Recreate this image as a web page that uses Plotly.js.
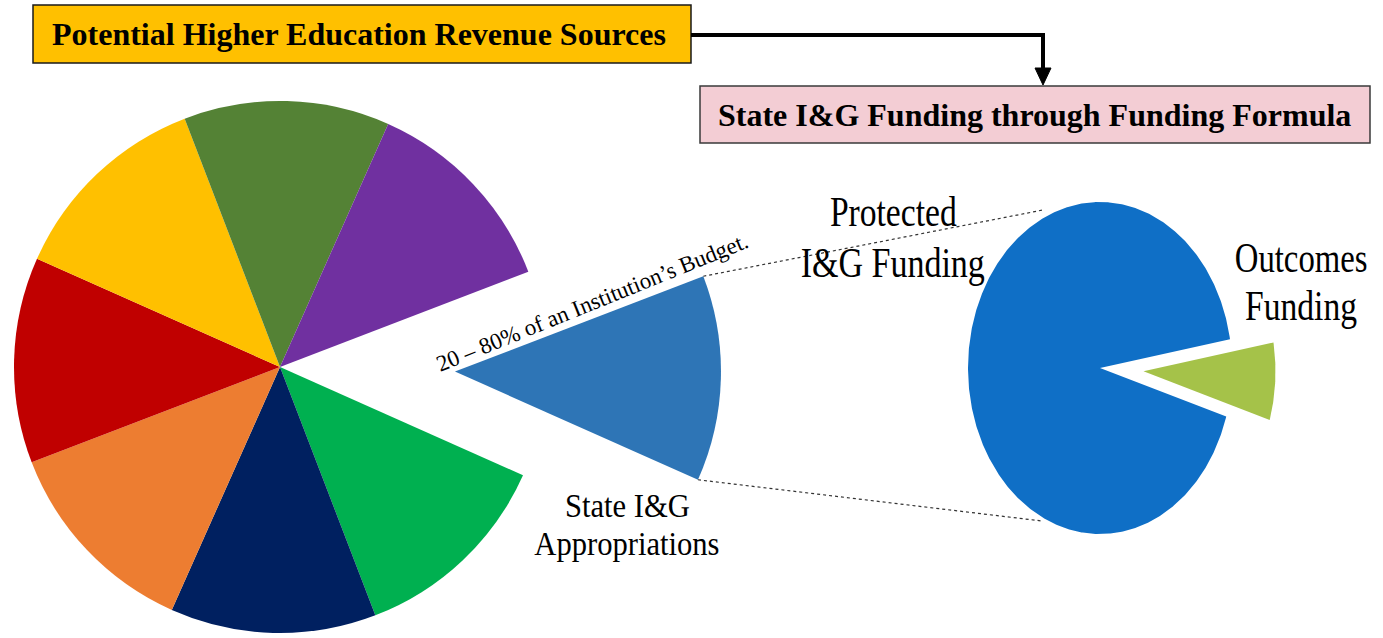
<!DOCTYPE html>
<html>
<head>
<meta charset="utf-8">
<script src="https://cdn.plot.ly/plotly-3.0.1.min.js"></script>
<style>
  html, body { margin: 0; padding: 0; background: #ffffff; }
  #chart { width: 1383px; height: 638px; }
</style>
</head>
<body>
<div id="chart"></div>
<script>
// ---------------- DATA ----------------
const revenueLabels = [
  'State I&G Appropriations',
  'Revenue source 2',
  'Revenue source 3',
  'Revenue source 4',
  'Revenue source 5',
  'Revenue source 6',
  'Revenue source 7',
  'Revenue source 8'
];
const revenueValues = [1, 1, 1, 1, 1, 1, 1, 1];

const formulaLabels = ['Protected I&G Funding', 'Outcomes Funding'];
const formulaValues = [92.5, 7.5];

// ---------------- STYLE ----------------
const revenueColors = ['#2E75B6', '#00B050', '#002060', '#ED7D31', '#C00000', '#FFC000', '#548235', '#7030A0'];
const formulaColors = ['#0F6FC6', '#A5C249'];
const SERIF = 'Liberation Serif, Times New Roman, serif';

const W = 1383, H = 638;

// Left pie geometry (pixels)
const L = { cx: 280, cy: 367, r: 266, rotation: 69, explodeIndex: 0, pull: 0.658 };
// Right (elliptical) pie geometry
const R = { cx: 1100, cy: 368, rx: 132, ry: 166, rotation: 107, explodeIndex: 1, pull: 0.33 };

const deg = Math.PI / 180;

function sliceAngles(values, rotation) {
  const total = values.reduce((a, b) => a + b, 0);
  let a = rotation;
  return values.map(v => { const s = a; a += 360 * v / total; return [s, a]; });
}

// Left pie: two pie traces (one with the exploded slice shifted out)
const Lang = sliceAngles(revenueValues, L.rotation);
const Lmid = (Lang[L.explodeIndex][0] + Lang[L.explodeIndex][1]) / 2 * deg;
const Lex = { cx: L.cx + L.pull * L.r * Math.sin(Lmid), cy: L.cy - L.pull * L.r * Math.cos(Lmid) };

function domainFor(cx, cy, r) {
  return {
    x: [Math.max(0, (cx - r) / W), Math.min(1, (cx + r) / W)],
    y: [Math.max(0, 1 - (cy + r) / H), Math.min(1, 1 - (cy - r) / H)]
  };
}

const pieBase = {
  type: 'pie', labels: revenueLabels, values: revenueValues, sort: false,
  direction: 'clockwise', rotation: L.rotation, textinfo: 'none',
  hoverinfo: 'skip', showlegend: false
};
const traceMain = Object.assign({}, pieBase, {
  name: 'Revenue sources',
  marker: { colors: revenueColors.map((c, i) => i === L.explodeIndex ? 'rgba(0,0,0,0)' : c), line: { width: 0 } },
  domain: domainFor(L.cx, L.cy, L.r)
});
const traceExploded = Object.assign({}, pieBase, {
  name: 'State I&G Appropriations',
  marker: { colors: revenueColors.map((c, i) => i === L.explodeIndex ? c : 'rgba(0,0,0,0)'), line: { width: 0 } },
  domain: domainFor(Lex.cx, Lex.cy, L.r)
});

// Right pie: elliptical wedges computed from values, drawn on the pixel-scaled axes
const Rang = sliceAngles(formulaValues, R.rotation);
const rightTraces = formulaValues.map((v, i) => {
  const [a0, a1] = Rang[i];
  const mid = (a0 + a1) / 2 * deg;
  const p = i === R.explodeIndex ? R.pull : 0;
  const ox = R.cx + p * R.rx * Math.sin(mid), oy = R.cy - p * R.ry * Math.cos(mid);
  const xs = [ox], ys = [oy];
  const n = Math.max(12, Math.ceil(Math.abs(a1 - a0) * 2));
  for (let k = 0; k <= n; k++) {
    const t = (a0 + (a1 - a0) * k / n) * deg;
    xs.push(ox + R.rx * Math.sin(t));
    ys.push(oy - R.ry * Math.cos(t));
  }
  xs.push(ox); ys.push(oy);
  return {
    type: 'scatter', mode: 'lines', x: xs, y: ys, fill: 'toself',
    fillcolor: formulaColors[i], line: { width: 0, color: formulaColors[i] },
    name: formulaLabels[i], hoverinfo: 'skip', showlegend: false
  };
});

// Connector (dotted) lines from the exploded slice corners to the right pie
const eA = Lang[L.explodeIndex];
const cornerTop = [Lex.cx + L.r * Math.sin(eA[0] * deg), Lex.cy - L.r * Math.cos(eA[0] * deg)];
const cornerBot = [Lex.cx + L.r * Math.sin(eA[1] * deg), Lex.cy - L.r * Math.cos(eA[1] * deg)];
const rightTop = [1043, 210];
const rightBot = [1042, 521];

const shapes = [
  { type: 'rect', xref: 'x', yref: 'y', x0: 33, y0: 5, x1: 691, y1: 63,
    fillcolor: '#FFC000', line: { color: '#1a1a1a', width: 1.5 }, layer: 'above' },
  { type: 'rect', xref: 'x', yref: 'y', x0: 700, y0: 86, x1: 1370, y1: 143,
    fillcolor: '#F3CDD4', line: { color: '#3a3a3a', width: 1.5 }, layer: 'above' },
  { type: 'path', xref: 'x', yref: 'y', path: 'M 691 35 L 1043 35 L 1043 70',
    line: { color: '#000000', width: 4 }, layer: 'above' },
  { type: 'path', xref: 'x', yref: 'y', path: 'M 1035 68 L 1051 68 L 1043 85 Z',
    fillcolor: '#000000', line: { color: '#000000', width: 1 }, layer: 'above' },
  { type: 'line', xref: 'x', yref: 'y', x0: cornerTop[0], y0: cornerTop[1], x1: rightTop[0], y1: rightTop[1],
    line: { color: '#333333', width: 1.2, dash: 'dot' }, layer: 'above' },
  { type: 'line', xref: 'x', yref: 'y', x0: cornerBot[0], y0: cornerBot[1], x1: rightBot[0], y1: rightBot[1],
    line: { color: '#333333', width: 1.2, dash: 'dot' }, layer: 'above' }
];

const ann = (text, x, y, size, extra) => Object.assign({
  text, x, y, xref: 'x', yref: 'y', showarrow: false,
  xanchor: 'center', yanchor: 'middle', align: 'center',
  font: { family: SERIF, size, color: '#000000' }
}, extra || {});

const annotations = [
  ann('<b>Potential Higher Education Revenue Sources</b>', 359, 34, 32),
  ann('<b>State I&amp;G Funding through Funding Formula</b>', 1034, 115, 32),
  ann('Protected', 893, 212, 42),
  ann('I&amp;G Funding', 893, 263, 42),
  ann('Outcomes', 1301, 258, 42),
  ann('Funding', 1301, 306, 42),
  ann('State I&amp;G', 627, 505, 34),
  ann('Appropriations', 627, 543, 34),
  ann('20 – 80% of an Institution’s Budget.', 592, 302, 23, { textangle: -22 })
];
// horizontal condensing factor per annotation (the reference uses narrow, tall type)
const condense = { 2: 0.80, 3: 0.81, 4: 0.78, 5: 0.80, 6: 0.90, 7: 0.90 };

const layout = {
  width: W, height: H,
  margin: { l: 0, r: 0, t: 0, b: 0, pad: 0 },
  paper_bgcolor: '#ffffff', plot_bgcolor: 'rgba(0,0,0,0)',
  xaxis: { range: [0, W], visible: false, fixedrange: true },
  yaxis: { range: [H, 0], visible: false, fixedrange: true },
  showlegend: false, hovermode: false,
  shapes, annotations
};

Plotly.newPlot('chart', [...rightTraces, traceMain, traceExploded], layout,
  { staticPlot: true, displayModeBar: false, responsive: false })
.then(gd => {
  gd.querySelectorAll('.annotation').forEach(g => {
    const idx = +g.getAttribute('data-index');
    const s = condense[idx];
    if (!s) return;
    const t = g.querySelector('text.annotation-text');
    if (!t) return;
    const bb = t.getBBox();
    const cx = bb.x + bb.width / 2;
    const prev = t.getAttribute('transform') || '';
    t.setAttribute('transform', 'translate(' + cx + ',0) scale(' + s + ',1) translate(' + (-cx) + ',0) ' + prev);
  });
});
</script>
</body>
</html>
